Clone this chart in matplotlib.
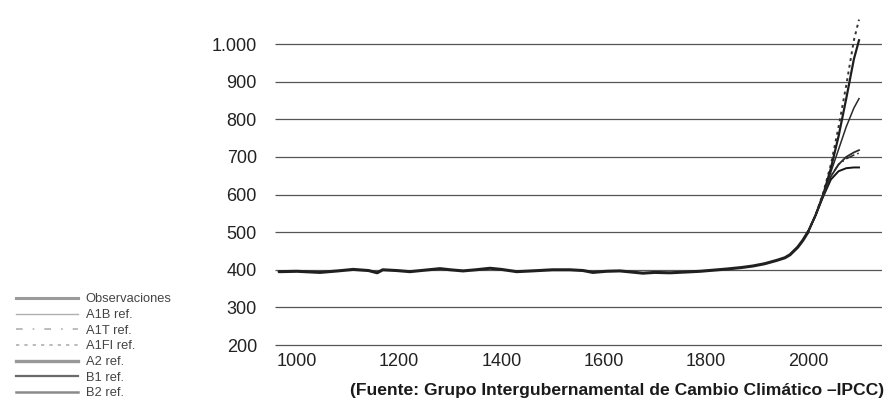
import matplotlib
matplotlib.use("Agg")
import matplotlib.pyplot as plt
from matplotlib.lines import Line2D
from matplotlib import font_manager

# fuente estrecha tipo Helvetica Condensed si existe
nombres = set(f.name for f in font_manager.fontManager.ttflist)
fam = ['Liberation Sans Narrow', 'Liberation Sans', 'DejaVu Sans']
fam = [f for f in fam if f in nombres] or ['DejaVu Sans']
plt.rcParams['font.family'] = fam

# datos
obs_anios = [965, 1000, 1045, 1080, 1110, 1140, 1157, 1168, 1195, 1221, 1250, 1280, 1300,
             1325, 1350, 1378, 1400, 1430, 1460, 1500, 1534, 1560, 1579, 1605, 1632, 1655,
             1677, 1700, 1730, 1760, 1789, 1815, 1841, 1870, 1892, 1915, 1939, 1955, 1965,
             1980, 1990, 2000]
obs_valores = [395, 396, 393, 397, 401, 398, 392, 400, 398, 395, 399, 403, 400,
               397, 400, 404, 401, 395, 397, 400, 400, 398, 393, 396, 397, 394,
               391, 393, 392, 394, 396, 399, 402, 406, 410, 416, 425, 432, 440,
               460, 478, 500]

esc_anios = [2000, 2015, 2030, 2045, 2060, 2075, 2090, 2100]
a1b = [500, 545, 600, 660, 720, 780, 830, 855]
a1t = [500, 545, 600, 650, 680, 695, 705, 710]
a1fi = [500, 545, 605, 680, 780, 890, 1010, 1065]
a2 = [500, 545, 600, 670, 755, 855, 960, 1010]
b1 = [500, 545, 595, 640, 662, 670, 672, 672]
b2 = [500, 545, 598, 648, 680, 700, 712, 718]

y_ticks = [200, 300, 400, 500, 600, 700, 800, 900, 1000]
y_etiquetas = ['200', '300', '400', '500', '600', '700', '800', '900', '1.000']
x_ticks = [1000, 1200, 1400, 1600, 1800, 2000]

leyenda = ['Observaciones', 'A1B ref.', 'A1T ref.', 'A1FI ref.', 'A2 ref.', 'B1 ref.', 'B2 ref.']

fig = plt.figure(figsize=(8.85, 4.05), dpi=100)
ax = fig.add_axes([275/885, 56.2/405, 607/885, 331.1/405])
ax.set_xlim(957, 2145)
ax.set_ylim(190, 1070)

ax.hlines(y_ticks, 957, 2145, colors='#555555', linewidth=0.9, zorder=1)

ax.plot(esc_anios, a1b, color='#2a2a2a', lw=1.1, zorder=3)
ax.plot(esc_anios, a1t, color='#2a2a2a', lw=1.1, ls=(0, (6, 2, 1, 2)), zorder=3)
ax.plot(esc_anios, a1fi, color='#333333', lw=1.4, ls=(0, (1.5, 2)), zorder=3)
ax.plot(esc_anios, a2, color='#1e1e1e', lw=1.6, zorder=3)
ax.plot(esc_anios, b1, color='#151515', lw=1.4, zorder=3)
ax.plot(esc_anios, b2, color='#2a2a2a', lw=1.3, zorder=3)
ax.plot(obs_anios, obs_valores, color='#202020', lw=2.2, solid_capstyle='round', zorder=4)

for s in ax.spines.values():
    s.set_visible(False)
ax.set_yticks(y_ticks)
ax.set_yticklabels(y_etiquetas)
ax.set_xticks(x_ticks)
ax.tick_params(length=0, labelsize=13, colors='#222222')
ax.tick_params(axis='y', pad=13)
ax.tick_params(axis='x', pad=3)

proxies = [Line2D([], [], color='#9a9a9a', lw=2.2),
           Line2D([], [], color='#b0b0b0', lw=1.0),
           Line2D([], [], color='#b0b0b0', lw=1.2, ls=(0, (4, 6, 1, 6))),
           Line2D([], [], color='#b0b0b0', lw=1.2, ls=(0, (2, 3))),
           Line2D([], [], color='#999999', lw=2.4),
           Line2D([], [], color='#6a6a6a', lw=1.6),
           Line2D([], [], color='#8a8a8a', lw=1.8)]
fig.legend(handles=proxies, labels=leyenda, loc='upper left',
           bbox_to_anchor=(10/885, 1 - 287/405), frameon=False, fontsize=9.3,
           labelspacing=0.28, handlelength=4.8, handletextpad=0.55, borderpad=0,
           labelcolor='#444444')

fig.text(884/885, 1 - 391/405,
         '(Fuente: Grupo Intergubernamental de Cambio Climático –IPCC)',
         ha='right', va='center', fontsize=12.6, fontweight='bold', color='#1a1a1a')

fig.savefig('out.png', dpi=100)
